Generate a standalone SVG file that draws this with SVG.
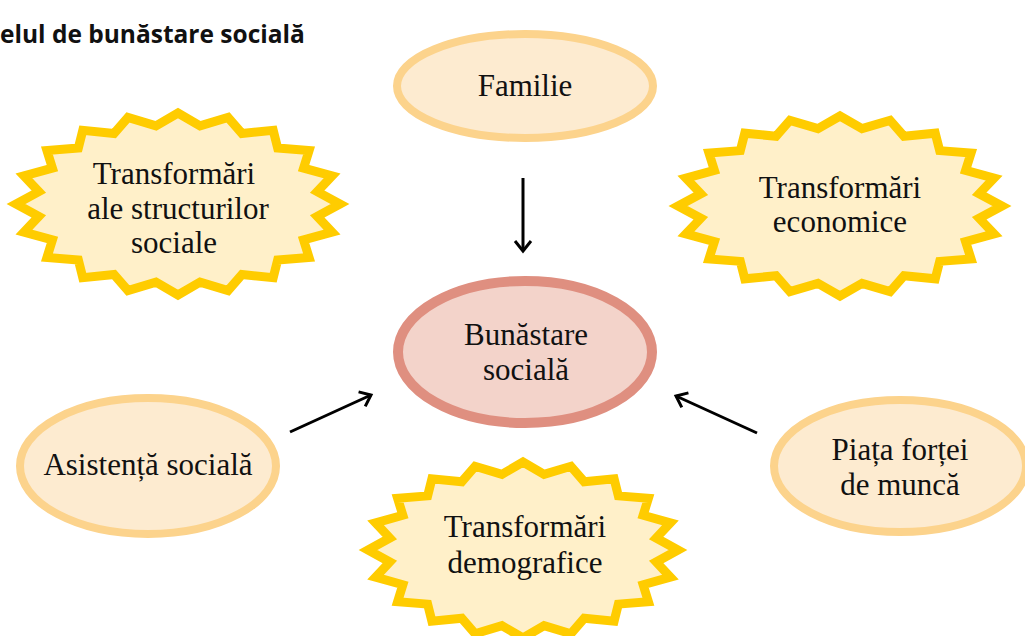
<svg xmlns="http://www.w3.org/2000/svg" xmlns:xlink="http://www.w3.org/1999/xlink" width="1025" height="636" viewBox="0 0 1025 636">
<style>
.lbl{font-family:"Liberation Serif","Times New Roman",serif;font-size:31px;fill:#111;text-anchor:middle}
.title{font-family:"Open Sans","Liberation Sans",sans-serif;font-weight:bold;font-size:24.5px;fill:#111}
.star{fill:#FFF0C9;stroke:#FFCC00;stroke-width:9;stroke-linejoin:miter;stroke-miterlimit:10}
.oval{fill:#FDEBD0;stroke:#FCD38C;stroke-width:8}
.main{fill:#F3D3CA;stroke:#DF8F80;stroke-width:10}
.arr{stroke:#000;stroke-width:3;fill:none}
</style>
<defs>
<polygon id="burst" vector-effect="non-scaling-stroke" points="1,0 0.8593,0.1361 0.9511,0.3090 0.7752,0.3950 0.8090,0.5878 0.6152,0.6152 0.5878,0.8090 0.3950,0.7752 0.3090,0.9511 0.1361,0.8593 0,1 -0.1361,0.8593 -0.3090,0.9511 -0.3950,0.7752 -0.5878,0.8090 -0.6152,0.6152 -0.8090,0.5878 -0.7752,0.3950 -0.9511,0.3090 -0.8593,0.1361 -1,0 -0.8593,-0.1361 -0.9511,-0.3090 -0.7752,-0.3950 -0.8090,-0.5878 -0.6152,-0.6152 -0.5878,-0.8090 -0.3950,-0.7752 -0.3090,-0.9511 -0.1361,-0.8593 0,-1 0.1361,-0.8593 0.3090,-0.9511 0.3950,-0.7752 0.5878,-0.8090 0.6152,-0.6152 0.8090,-0.5878 0.7752,-0.3950 0.9511,-0.3090 0.8593,-0.1361"/>
<marker id="head" viewBox="0 0 20 20" refX="17" refY="10" markerWidth="20" markerHeight="20" markerUnits="userSpaceOnUse" orient="auto">
<polyline points="7,2 17,10 7,18" fill="none" stroke="#000" stroke-width="3"/>
</marker>
</defs>
<text class="title" x="0" y="43">elul de bunăstare socială</text>
<g id="familie">
<ellipse class="oval" cx="525" cy="86" rx="128" ry="52"/>
<text class="lbl" x="525" y="96">Familie</text>
</g>
<g id="transformari-structuri">
<use xlink:href="#burst" class="star" transform="translate(178,204) scale(162,91)"/>
<text class="lbl" x="174" y="184">Transformări</text>
<text class="lbl" x="178" y="219">ale structurilor</text>
<text class="lbl" x="174" y="253">sociale</text>
</g>
<g id="transformari-economice">
<use xlink:href="#burst" class="star" transform="translate(840,206) scale(162,90)"/>
<text class="lbl" x="840" y="198">Transformări</text>
<text class="lbl" x="840" y="232">economice</text>
</g>
<g id="bunastare">
<ellipse class="main" cx="525" cy="352" rx="127" ry="71"/>
<text class="lbl" x="526" y="345">Bunăstare</text>
<text class="lbl" x="526" y="380">socială</text>
</g>
<g id="asistenta">
<ellipse class="oval" cx="148" cy="466" rx="128" ry="68"/>
<text class="lbl" x="148" y="475">Asistență socială</text>
</g>
<g id="piata">
<ellipse class="oval" cx="900" cy="466" rx="126" ry="66"/>
<text class="lbl" x="900" y="460">Piața forței</text>
<text class="lbl" x="900" y="495">de muncă</text>
</g>
<g id="transformari-demografice">
<use xlink:href="#burst" class="star" transform="translate(523,550) scale(155,88)"/>
<text class="lbl" x="525" y="537">Transformări</text>
<text class="lbl" x="525" y="573">demografice</text>
</g>
<g id="connectors">
<line class="arr" x1="523" y1="178" x2="523" y2="251" marker-end="url(#head)"/>
<line class="arr" x1="290" y1="432" x2="371" y2="395" marker-end="url(#head)"/>
<line class="arr" x1="757" y1="433" x2="676" y2="396" marker-end="url(#head)"/>
</g>
</svg>
